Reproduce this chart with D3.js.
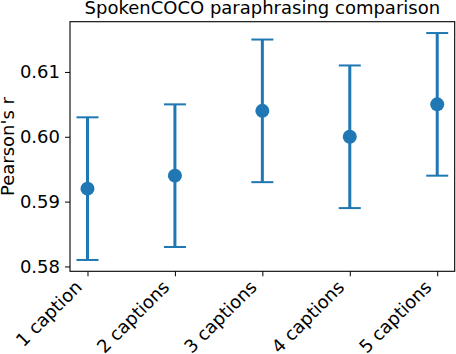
<!DOCTYPE html>
<html>
<head>
<meta charset="utf-8">
<script src="https://cdn.jsdelivr.net/npm/d3@7"></script>
<style>
  body { margin: 0; background: #fff; }
  text { font-family: "DejaVu Sans", sans-serif; fill: #000; }
</style>
</head>
<body>
<div id="chart"></div>
<script>
var categories = ['1 caption', '2 captions', '3 captions', '4 captions', '5 captions'];
var means = [0.592, 0.594, 0.604, 0.600, 0.605];
var lower = [0.581, 0.583, 0.593, 0.589, 0.594];
var upper = [0.603, 0.605, 0.615, 0.611, 0.616];
var yTicks = [0.58, 0.59, 0.60, 0.61];

var data = categories.map(function(c, i) {
    return { key: c, i: i, mean: means[i], lo: lower[i], hi: upper[i] };
});

var width = 456, height = 354;
var margin = { top: 21.7, right: 1.3, bottom: 82.7, left: 70 };
var w = width - margin.left - margin.right,
    h = height - margin.top - margin.bottom;
var fs = "18px";

// matplotlib style 5% margins
var yMin = d3.min(lower), yMax = d3.max(upper), yPad = (yMax - yMin) * 0.05;
var xScale = d3.scaleLinear()
    .domain([-0.2, categories.length - 1 + 0.2])
    .range([0, w]);
var yScale = d3.scaleLinear()
    .domain([yMin - yPad, yMax + yPad])
    .range([h, 0]);

var svg = d3.select("#chart").append("svg")
    .attr("width", width)
    .attr("height", height);

var g = svg.append("g")
    .attr("transform", "translate(" + margin.left + "," + margin.top + ")");

var color = "#1f77b4";

// error bars
g.append("g").attr("class", "errorbar").selectAll("line")
    .data(data).enter()
    .append("line")
    .attr("stroke", color)
    .attr("stroke-width", 3)
    .attr("x1", function(d) { return xScale(d.i); })
    .attr("x2", function(d) { return xScale(d.i); })
    .attr("y1", function(d) { return yScale(d.hi); })
    .attr("y2", function(d) { return yScale(d.lo); });

// caps
["hi", "lo"].forEach(function(k) {
    g.append("g").attr("class", "cap-" + k).selectAll("line")
        .data(data).enter()
        .append("line")
        .attr("stroke", color)
        .attr("stroke-width", 2)
        .attr("x1", function(d) { return xScale(d.i) - 11; })
        .attr("x2", function(d) { return xScale(d.i) + 11; })
        .attr("y1", function(d) { return yScale(d[k]); })
        .attr("y2", function(d) { return yScale(d[k]); });
});

// points
g.append("g").attr("class", "scatter").selectAll("circle")
    .data(data).enter()
    .append("circle")
    .attr("fill", color)
    .attr("r", 7)
    .attr("cx", function(d) { return xScale(d.i); })
    .attr("cy", function(d) { return yScale(d.mean); });

// frame
g.append("rect")
    .attr("width", w).attr("height", h)
    .attr("fill", "none").attr("stroke", "#000").attr("stroke-width", 1.1);

// y axis
var yAxis = d3.axisLeft(yScale)
    .tickValues(yTicks)
    .tickFormat(d3.format(".2f"))
    .tickSize(5)
    .tickPadding(5);
var ya = g.append("g").call(yAxis);
ya.select(".domain").remove();
ya.selectAll("text").style("font-size", fs);

// x axis
var xAxis = d3.axisBottom(xScale)
    .tickValues(d3.range(categories.length))
    .tickFormat(function(i) { return categories[i]; })
    .tickSize(5)
    .tickPadding(5);
var xa = g.append("g")
    .attr("transform", "translate(0," + h + ")")
    .call(xAxis);
xa.select(".domain").remove();
xa.selectAll("text")
    .style("font-size", fs)
    .attr("text-anchor", "end")
    .attr("dy", null)
    .attr("y", 0)
    .attr("transform", "translate(-5,17) rotate(-45)");

// title
svg.append("text")
    .attr("x", margin.left + w / 2)
    .attr("y", 14)
    .attr("text-anchor", "middle")
    .style("font-size", fs)
    .text("SpokenCOCO paraphrasing comparison");

// y label
svg.append("text")
    .attr("transform", "translate(14," + (margin.top + h / 2) + ") rotate(-90)")
    .attr("text-anchor", "middle")
    .style("font-size", fs)
    .text("Pearson's r");
</script>
</body>
</html>
